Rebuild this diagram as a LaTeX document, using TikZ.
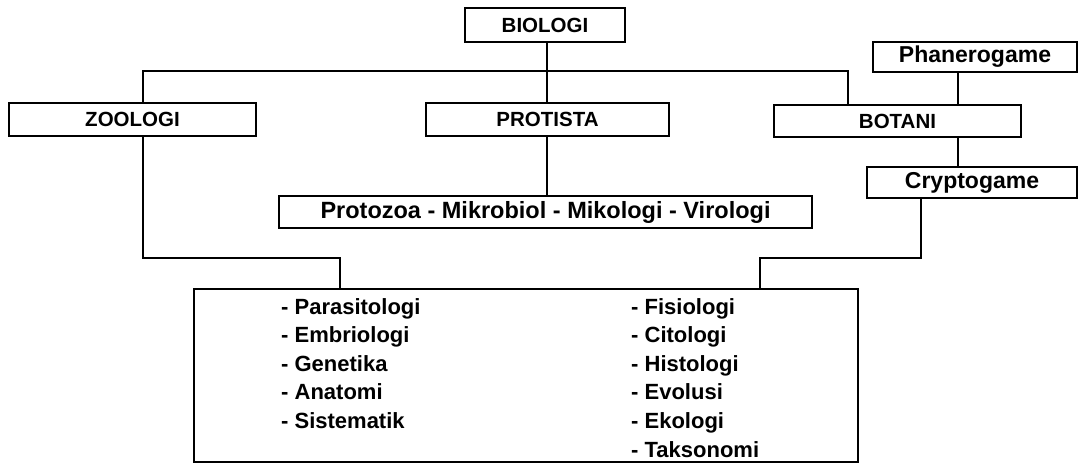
\documentclass[tikz,border=0pt]{standalone}
\usepackage{fontspec}
\setmainfont{Liberation Sans}
\usetikzlibrary{positioning}

\begin{document}
\begin{tikzpicture}[x=1pt, y=-1pt,
    kotak/.style={draw, line width=2.5pt, inner sep=0pt, font=\bfseries\fontsize{20.5}{24}\selectfont},
    kotakbesar/.style={kotak, font=\bfseries\fontsize{23}{28}\selectfont},
    item/.style={inner sep=0pt, anchor=base west, font=\bfseries\fontsize{22}{26}\selectfont},
    garis/.style={line width=2.5pt}
]
    \useasboundingbox (0,0) rectangle (1080,463);

    % kotak utama
    \node[kotak, minimum width=160pt, minimum height=34pt] (biologi) at (545,25) {BIOLOGI};
    \node[kotak, minimum width=247pt, minimum height=33pt] (zoologi) at (132.5,119.5) {ZOOLOGI};
    \node[kotak, minimum width=243pt, minimum height=33pt] (protista) at (547.5,119.5) {PROTISTA};
    \node[kotak, minimum width=247pt, minimum height=32pt] (botani) at (897.5,121) {BOTANI};
    \node[kotakbesar, minimum width=204pt, minimum height=30pt] (phanero) at (975,57) {Phanerogame};
    \node[kotakbesar, minimum width=210pt, minimum height=31pt] (crypto) at (972,182.5) {Cryptogame};
    \node[kotakbesar, minimum width=533pt, minimum height=32pt, font=\bfseries\fontsize{23.5}{28}\selectfont] (protozoa) at (545.5,212) {Protozoa - Mikrobiol - Mikologi - Virologi};
    \node[draw, line width=2.5pt, minimum width=664pt, minimum height=173pt] (cabang) at (526,375.5) {};

    % daftar cabang ilmu
    \foreach \t [count=\i] in {Parasitologi, Embriologi, Genetika, Anatomi, Sistematik}
        \node[item] (kiri\i) at (281,{314+28.6*(\i-1)}) {- \t};
    \foreach \t [count=\i] in {Fisiologi, Citologi, Histologi, Evolusi, Ekologi, Taksonomi}
        \node[item] (kanan\i) at (631,{314+28.6*(\i-1)}) {- \t};

    % titik belok
    \coordinate (jTengah) at (547,71);
    \coordinate (jKiri) at (143,71);
    \coordinate (jKanan) at (848,71);
    \coordinate (jBotani) at (958,0);
    \coordinate (bKiri1) at (143,258);
    \coordinate (bKiri2) at (340,258);
    \coordinate (bKanan1) at (921,258);
    \coordinate (bKanan2) at (760,258);

    % penghubung
    \draw[garis] (biologi.south -| jTengah) -- (protista.north -| jTengah);
    \draw[garis] (zoologi.north -| jKiri) -- (jKiri) -- (jKanan) -- (botani.north -| jKanan);
    \draw[garis] (protista.south -| jTengah) -- (protozoa.north -| jTengah);
    \draw[garis] (phanero.south -| jBotani) -- (botani.north -| jBotani);
    \draw[garis] (botani.south -| jBotani) -- (crypto.north -| jBotani);
    \draw[garis] (zoologi.south -| bKiri1) -- (bKiri1) -- (bKiri2) -- (cabang.north -| bKiri2);
    \draw[garis] (crypto.south -| bKanan1) -- (bKanan1) -- (bKanan2) -- (cabang.north -| bKanan2);
\end{tikzpicture}
\end{document}
